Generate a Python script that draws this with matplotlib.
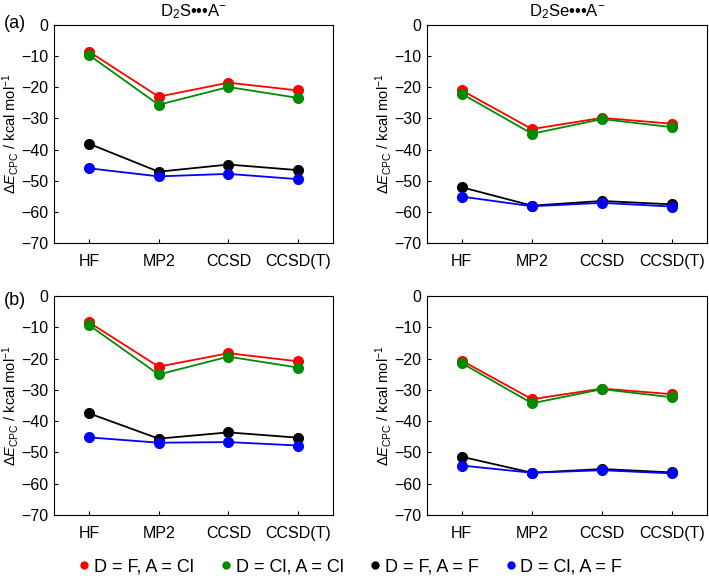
import matplotlib.pyplot as plt

plt.rcParams['font.family'] = ['Liberation Sans', 'DejaVu Sans']
plt.rcParams['mathtext.fontset'] = 'custom'
plt.rcParams['mathtext.rm'] = 'Liberation Sans'
plt.rcParams['mathtext.it'] = 'Liberation Sans:italic'

methods = ["HF", "MP2", "CCSD", "CCSD(T)"]
labels = ["D = F, A = Cl", "D = Cl, A = Cl", "D = F, A = F", "D = Cl, A = F"]
colors = ["#ff0000", "#008a00", "#000000", "#0000ff"]

# (a) D2S...A-
a_S = [
    [-8.5, -23.0, -18.5, -21.0],
    [-9.6, -25.6, -19.9, -23.4],
    [-38.1, -47.1, -44.8, -46.6],
    [-46.0, -48.6, -47.8, -49.5],
]
# (a) D2Se...A-
a_Se = [
    [-21.0, -33.4, -29.8, -31.7],
    [-22.1, -34.9, -30.2, -32.8],
    [-52.1, -58.0, -56.5, -57.6],
    [-55.1, -58.2, -57.1, -58.3],
]
# (b) D2S...A-
b_S = [
    [-8.4, -22.6, -18.3, -20.9],
    [-9.3, -25.1, -19.4, -22.9],
    [-37.5, -45.6, -43.6, -45.3],
    [-45.2, -46.9, -46.7, -47.8],
]
# (b) D2Se...A-
b_Se = [
    [-20.7, -33.0, -29.6, -31.4],
    [-21.5, -34.3, -29.8, -32.4],
    [-51.4, -56.5, -55.3, -56.4],
    [-54.2, -56.5, -55.7, -56.7],
]

fig = plt.figure(figsize=(7.09, 5.78), dpi=100)

positions = [
    [0.0762, 0.5796, 0.3935, 0.377],
    [0.602, 0.5796, 0.3955, 0.377],
    [0.0762, 0.109, 0.3935, 0.379],
    [0.602, 0.109, 0.3955, 0.379],
]
datasets = [a_S, a_Se, b_S, b_Se]
titles = ["D$_2$S\u2022\u2022\u2022A$^{-}$", "D$_2$Se\u2022\u2022\u2022A$^{-}$", None, None]

x = list(range(len(methods)))
for pos, data, title in zip(positions, datasets, titles):
    ax = fig.add_axes(pos)
    for series, c in zip(data, colors):
        ax.plot(x, series, color=c, marker="o", markersize=7, linewidth=1.3)
    ax.set_xlim(-0.5, 3.5)
    ax.set_ylim(-70, 0)
    ax.set_yticks(range(-70, 1, 10))
    ax.set_xticks(x)
    ax.set_xticklabels(methods)
    ax.tick_params(direction="in", length=3, labelsize=11.5, pad=4)
    ax.tick_params(axis="x", pad=8)
    ax.set_ylabel(r"$\Delta E_{\mathrm{CPC}}$ / kcal mol$^{-1}$", fontsize=10.5)
    ax.yaxis.set_label_coords(-0.118, 0.5)
    if title:
        ax.set_title(title, fontsize=12, pad=6)

fig.text(0.005, 0.952, "(a)", fontsize=13)
fig.text(0.005, 0.472, "(b)", fontsize=13)

handles = [plt.Line2D([], [], color=c, marker="o", linestyle="none", markersize=5) for c in colors]
fig.legend(handles, labels, loc="center", bbox_to_anchor=(0.492, 0.019), ncol=4, frameon=False,
           fontsize=13, handletextpad=0.05, columnspacing=1.25, handlelength=1.0)

fig.savefig("out.png", dpi=100)
